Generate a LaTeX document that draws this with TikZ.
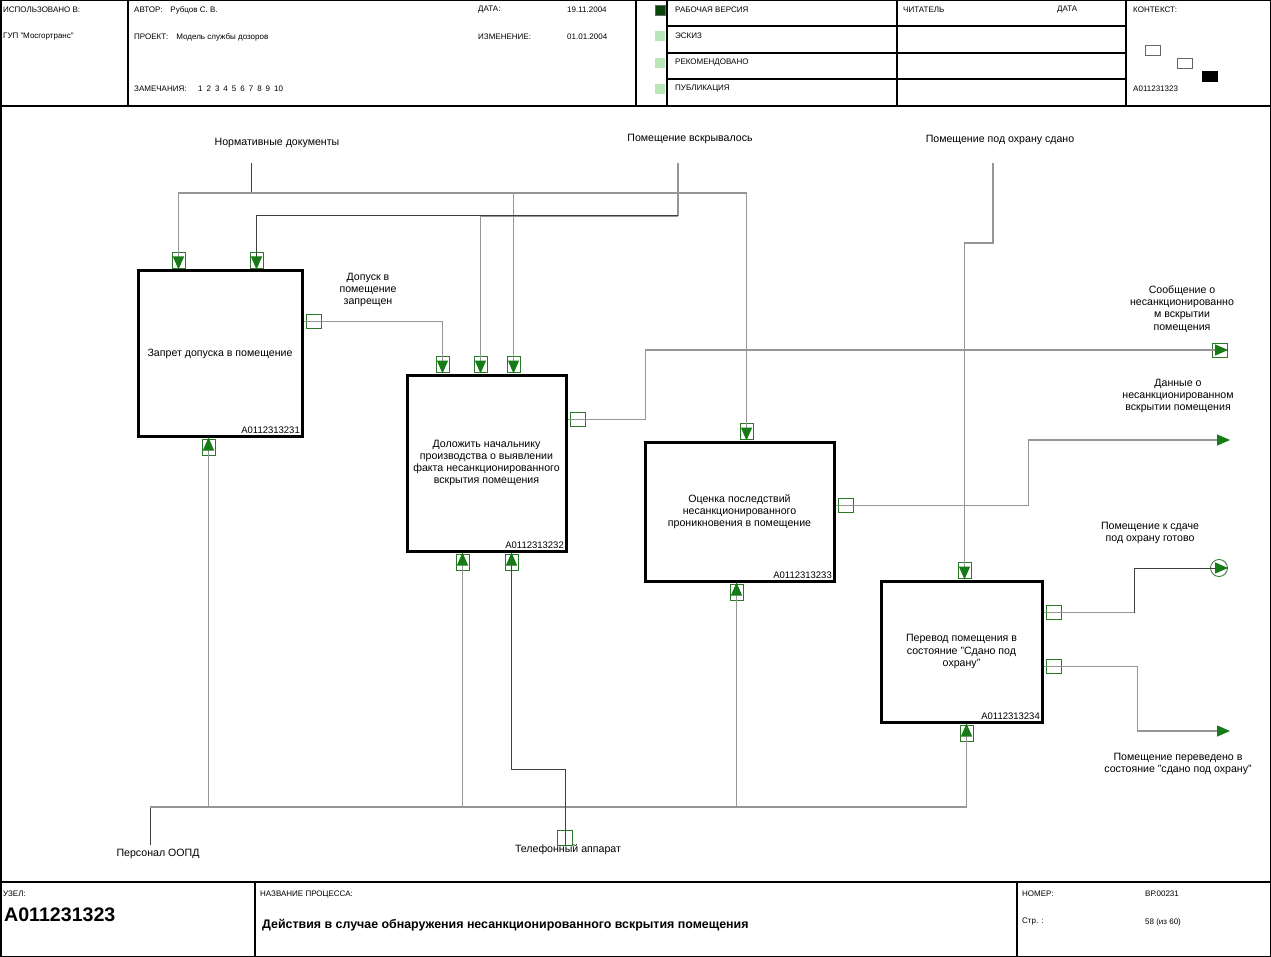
\documentclass[tikz,border=0pt]{standalone}
\usepackage{fontspec}
\setmainfont{Liberation Sans}
\usetikzlibrary{positioning,calc,arrows.meta}
\definecolor{idgreen}{RGB}{22,122,22}
\definecolor{taggreen}{RGB}{40,120,40}
\definecolor{lightgr}{RGB}{185,230,185}
\definecolor{darkgr}{RGB}{10,70,10}
\definecolor{linegray}{RGB}{150,150,150}

\begin{document}
\begin{tikzpicture}[x=1pt, y=-1pt, every node/.style={font=\fontsize{10.6}{12.3}\selectfont, inner sep=1pt}]
\tikzstyle{fbox}=[draw, line width=3pt, align=center, inner sep=0pt]
\tikzstyle{num}=[anchor=south east, inner sep=3.5pt, font=\fontsize{9.5}{10}\selectfont]
\tikzstyle{lbl}=[align=center]
\tikzstyle{hdr}=[anchor=west, inner sep=0pt, font=\fontsize{8}{9}\selectfont]
\tikzstyle{frame}=[line width=1.5pt]
\tikzstyle{link}=[draw=linegray, line width=1.2pt]
\tikzstyle{dlink}=[draw=black!75, line width=1pt]
\tikzstyle{tip}=[-{Triangle[length=13pt,width=11pt,color=idgreen]}]
\tikzstyle{tagv}=[draw=taggreen, line width=0.8pt, minimum width=13pt, minimum height=16pt, inner sep=0pt]
\tikzstyle{tagh}=[draw=taggreen, line width=0.8pt, minimum width=15pt, minimum height=14pt, inner sep=0pt]
\tikzstyle{flag}=[draw=black!60, minimum size=10pt, inner sep=0pt]
\useasboundingbox (0,0) rectangle (1271,957);
\fill[white] (0,0) rectangle (1271,957);
% frame, header and footer
\draw[frame] (0.75,0.75) rectangle (1270.25,956.25);
\draw[line width=2pt] (0,106) -- (1271,106) (0,882) -- (1271,882);
\draw[frame] (128,0) -- (128,106) (636,0) -- (636,106) (667,0) -- (667,106) (897,0) -- (897,106) (1126,0) -- (1126,106);
\draw[line width=2pt] (667,26.5) -- (1126,26.5) (667,53) -- (1126,53) (667,79.5) -- (1126,79.5);
\draw[frame] (255,882) -- (255,957) (1017,882) -- (1017,957);
\node[hdr] at (3,10) {ИСПОЛЬЗОВАНО В:};
\node[hdr] at (3,37) {ГУП "Мосгортранс"};
\node[hdr] at (134,10) {АВТОР:\quad Рубцов С. В.};
\node[hdr] at (134,37) {ПРОЕКТ:\quad Модель службы дозоров};
\node[hdr] at (134,89) {ЗАМЕЧАНИЯ:\quad\, 1\enspace 2\enspace 3\enspace 4\enspace 5\enspace 6\enspace 7\enspace 8\enspace 9\enspace 10};
\node[hdr] at (478,10) {ДАТА:};
\node[hdr] at (567,10) {19.11.2004};
\node[hdr] at (478,37) {ИЗМЕНЕНИЕ:};
\node[hdr] at (567,37) {01.01.2004};
\node[flag, fill=darkgr] at (660,10) {};
\node[flag, draw=none, fill=lightgr] at (660,36) {};
\node[flag, draw=none, fill=lightgr] at (660,63) {};
\node[flag, draw=none, fill=lightgr] at (660,89) {};
\node[hdr] at (675,10) {РАБОЧАЯ ВЕРСИЯ};
\node[hdr] at (675,36) {ЭСКИЗ};
\node[hdr] at (675,63) {РЕКОМЕНДОВАНО};
\node[hdr] at (675,89) {ПУБЛИКАЦИЯ};
\node[hdr] at (903,10) {ЧИТАТЕЛЬ};
\node[hdr] at (1057,10) {ДАТА};
\node[hdr] at (1133,10) {КОНТЕКСТ:};
\node[flag, minimum width=15pt] at (1152.5,50) {};
\node[flag, minimum width=15pt] at (1184.5,63) {};
\node[flag, minimum width=15pt, fill=black, draw=black] at (1210,76.5) {};
\node[hdr] at (1133,89) {A011231323};
\node[hdr] at (3,894) {УЗЕЛ:};
\node[hdr, font=\fontsize{19.6}{20}\selectfont\bfseries] at (4,915) {A011231323};
\node[hdr] at (260,894) {НАЗВАНИЕ ПРОЦЕССА:};
\node[hdr, font=\fontsize{12.4}{14}\selectfont\bfseries] at (262,925) {Действия в случае обнаружения несанкционированного вскрытия помещения};
\node[hdr] at (1022,894) {НОМЕР:};
\node[hdr] at (1145,894) {ВР.00231};
\node[hdr] at (1022,922) {Стр. :};
\node[hdr] at (1145,922) {58 (из 60)};
% activity boxes
\node[fbox, minimum width=164pt, minimum height=165pt] (b1) at (220,353.5) {Запрет допуска в помещение};
\node[fbox, minimum width=159pt, minimum height=176pt] (b2) at (486.5,463) {Доложить начальнику\\производства о выявлении\\факта несанкционированного\\вскрытия помещения};
\node[fbox, minimum width=189pt, minimum height=139pt] (b3) at (739.5,511.5) {Оценка последствий\\несанкционированного\\проникновения в помещение};
\node[fbox, minimum width=161pt, minimum height=141pt] (b4) at (961.5,651.5) {Перевод помещения в\\состояние "Сдано под\\охрану"};
\node[num] at (b1.south east) {A0112313231};
\node[num] at (b2.south east) {A0112313232};
\node[num] at (b3.south east) {A0112313233};
\node[num] at (b4.south east) {A0112313234};
% arrow labels
\node[lbl] (lnorm) at (277,143) {Нормативные документы};
\node[lbl] (lvskr) at (690,139) {Помещение вскрывалось};
\node[lbl] (lsdano) at (1000,140) {Помещение под охрану сдано};
\node[lbl] (ldopusk) at (368,290) {Допуск в\\помещение\\запрещен};
\node[lbl] (lsoob) at (1182,309) {Сообщение о\\несанкционированно\\м вскрытии\\помещения};
\node[lbl] (ldann) at (1178,396) {Данные о\\несанкционированном\\вскрытии помещения};
\node[lbl] (lgotovo) at (1150,533) {Помещение к сдаче\\под охрану готово};
\node[lbl] (lpereved) at (1178,764) {Помещение переведено в\\состояние "сдано под охрану"};
\node[lbl] (lpers) at (158,854) {Персонал ООПД};
\node[lbl] (ltel) at (568,850) {Телефонный аппарат};
% connection points
\coordinate (b1c1) at ($(b1.north west)+(42,0)$);
\coordinate (b1c2) at ($(b1.north west)+(120,0)$);
\coordinate (b2c1) at ($(b2.north west)+(37,0)$);
\coordinate (b2c2) at ($(b2.north west)+(75,0)$);
\coordinate (b2c3) at ($(b2.north west)+(108,0)$);
\coordinate (b3c1) at ($(b3.north west)+(103,0)$);
\coordinate (b4c1) at ($(b4.north west)+(85,0)$);
\coordinate (b1m1) at ($(b1.south west)+(72,0)$);
\coordinate (b2m1) at ($(b2.south west)+(57,0)$);
\coordinate (b2m2) at ($(b2.south west)+(106,0)$);
\coordinate (b3m1) at ($(b3.south west)+(93,0)$);
\coordinate (b4m1) at ($(b4.south west)+(87,0)$);
\coordinate (b1o1) at ($(b1.north east)+(0,52)$);
\coordinate (b2o1) at ($(b2.north east)+(0,46)$);
\coordinate (b3o1) at ($(b3.north east)+(0,65)$);
\coordinate (b4o1) at ($(b4.north east)+(0,33)$);
\coordinate (b4o2) at ($(b4.north east)+(0,87)$);
\coordinate (nsrc) at (251,163);
\coordinate (nj) at (251,193);
\coordinate (vsrc) at (678,163);
\coordinate (vj) at (678,216);
\coordinate (ssrc) at (993,163);
\coordinate (psrc) at (150,845);
\coordinate (pj) at (150,807);
\coordinate (tsrc) at (565,845);
\coordinate (soob) at (1228,350);
\coordinate (dann) at (1230,440);
\coordinate (gotovo) at (1228,568);
\coordinate (pereved) at (1230,731);
% tags
\foreach \p in {b1c1,b1c2,b2c1,b2c2,b2c3,b3c1,b4c1}
  \node[tagv, anchor=south] at ($(\p)+(0,-1)$) {};
\foreach \p in {b1m1,b2m1,b2m2,b3m1,b4m1}
  \node[tagv, anchor=north] at ($(\p)+(0,1)$) {};
\foreach \p in {b1o1,b2o1,b3o1,b4o1,b4o2}
  \node[tagh, anchor=west] at ($(\p)+(2,0)$) {};
\node[tagh, anchor=east] at (soob) {};
\draw[taggreen, line width=0.8pt] ($(gotovo)+(-9,0)$) circle (8.5pt);
\node[tagh, minimum height=15pt] at ($(tsrc)+(0,-7)$) {};
% controls
\draw[dlink] (nsrc) -- (nj);
\draw[link, tip] (nj) -| (b1c1);
\draw[link, tip] (nj) -| (b2c3);
\draw[link, tip] (nj) -| (b3c1);
\draw[link] (vsrc) -- (vj);
\draw[link, tip] (vj) -| (b2c2);
\draw[dlink, tip] (vj) -| (b1c2);
\draw[link, tip] (b1o1) -| (b2c1);
\draw[link, tip] (ssrc) -- ++(0,80) -| (b4c1);
% outputs
\draw[link, tip] (b2o1) -- ++(78,0) |- (soob);
\draw[link, tip] (b3o1) -- ++(193,0) |- (dann);
\draw[link] (b4o1) -- ++(91,0) coordinate (g1);
\draw[dlink, tip] (g1) |- (gotovo);
\draw[link, tip] (b4o2) -- ++(94,0) |- (pereved);
% mechanisms
\draw[dlink] (psrc) -- (pj);
\draw[link, tip] (pj) -| (b1m1);
\draw[link, tip] (pj) -| (b2m1);
\draw[link, tip] (pj) -| (b3m1);
\draw[link, tip] (pj) -| (b4m1);
\draw[dlink, tip] (tsrc) -- ++(0,-76) -| (b2m2);
\end{tikzpicture}
\end{document}
